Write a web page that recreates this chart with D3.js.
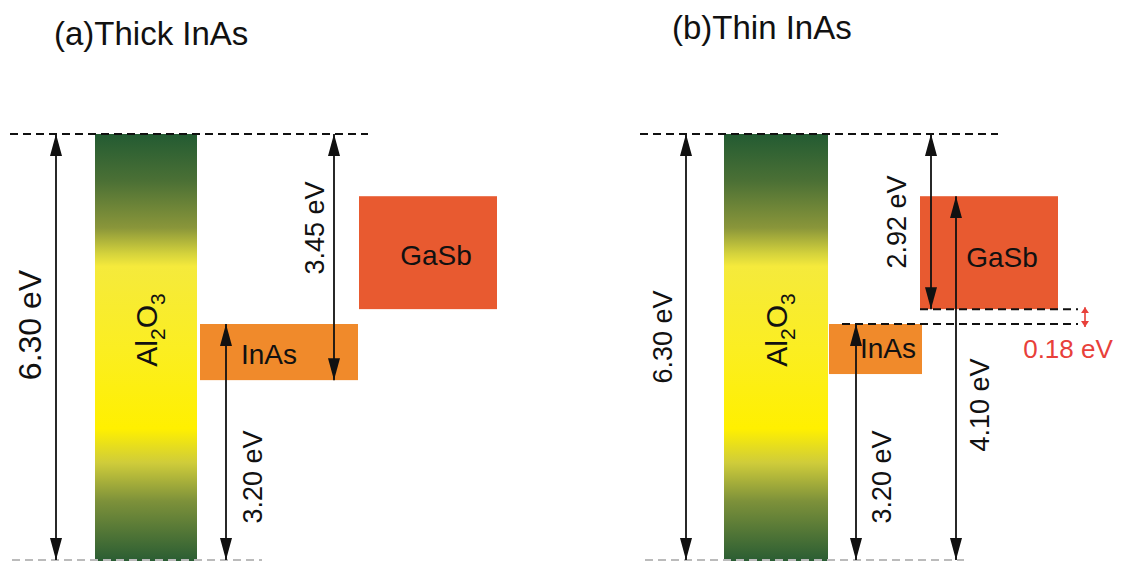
<!DOCTYPE html>
<html>
<head>
<meta charset="utf-8">
<script src="https://cdn.jsdelivr.net/npm/d3@7"></script>
<style>
  body { margin: 0; background: #fff; }
  text { font-family: "Liberation Sans", Arial, sans-serif; }
</style>
</head>
<body>
<div id="chart"></div>
<script>
// energies in eV (Al2O3 valence band = 0)
var titles = ["(a)Thick InAs", "(b)Thin InAs"];
var al2o3Band = [0, 6.30];
var inasBand = [[2.66, 3.49], [2.75, 3.49]];   // [bottom, top] per panel
var gasbBand = [[3.71, 5.38], [3.71, 5.38]];
// arrows: [from, to, label]
var arrowsA = [[0, 6.30, "6.30 eV"], [2.66, 6.30, "3.45 eV"], [0, 3.49, "3.20 eV"]];
var arrowsB = [[0, 6.30, "6.30 eV"], [3.71, 6.30, "2.92 eV"], [0, 3.49, "3.20 eV"], [0, 5.38, "4.10 eV"]];
var offsetB = [3.49, 3.71, "0.18 eV"];

var W = 1122, H = 561;

var svg = d3.select("#chart").append("svg")
  .attr("width", W)
  .attr("height", H);

var y = d3.scaleLinear()
  .domain([0, 6.30])
  .range([560, 134]);

var defs = svg.append("defs");

//-- gradient for the oxide --//
var grad = defs.append("linearGradient")
  .attr("id", "oxide")
  .attr("x1", 0).attr("y1", 0).attr("x2", 0).attr("y2", 1);
[[0, "#235b32"], [0.11, "#4b7035"], [0.22, "#8a963a"], [0.28, "#d4d23c"], [0.31, "#f5ea3c"],
 [0.5, "#fbee22"], [0.69, "#fff000"], [0.77, "#cfcc3a"], [0.86, "#7d913a"], [1, "#2a5d33"]]
  .forEach(function(s) {
    grad.append("stop").attr("offset", s[0]).attr("stop-color", s[1]);
  });

defs.append("marker")
  .attr("id", "head")
  .attr("viewBox", "0 0 22 12")
  .attr("refX", 22).attr("refY", 6)
  .attr("markerWidth", 22).attr("markerHeight", 12)
  .attr("markerUnits", "userSpaceOnUse")
  .attr("orient", "auto-start-reverse")
  .append("path")
  .attr("d", "M0,0 L22,6 L0,12 Z")
  .attr("fill", "#111");

defs.append("marker")
  .attr("id", "redhead")
  .attr("viewBox", "0 0 6 8")
  .attr("refX", 6).attr("refY", 4)
  .attr("markerWidth", 6).attr("markerHeight", 8)
  .attr("markerUnits", "userSpaceOnUse")
  .attr("orient", "auto-start-reverse")
  .append("path")
  .attr("d", "M0,0 L6,4 L0,8 Z")
  .attr("fill", "#e8403a");

function hline(g, e, x1, x2, color) {
  g.append("line")
    .attr("x1", x1).attr("x2", x2)
    .attr("y1", y(e)).attr("y2", y(e))
    .attr("stroke", color || "#111")
    .attr("stroke-width", 2)
    .attr("stroke-dasharray", "8,5");
}

function arrow(g, a, x) {
  g.append("line")
    .attr("x1", x).attr("x2", x)
    .attr("y1", y(a[0])).attr("y2", y(a[1]))
    .attr("stroke", "#111")
    .attr("stroke-width", 1.8)
    .attr("marker-start", "url(#head)")
    .attr("marker-end", "url(#head)");
}

function vlabel(g, txt, x, yy, size, color) {
  g.append("text")
    .attr("transform", "translate(" + x + "," + yy + ") rotate(-90)")
    .attr("text-anchor", "middle")
    .attr("font-size", size)
    .attr("fill", color || "#111")
    .text(txt);
}

function oxide(g, x1, x2) {
  g.append("rect")
    .attr("x", x1).attr("width", x2 - x1)
    .attr("y", y(al2o3Band[1])).attr("height", H - y(al2o3Band[1]))
    .attr("fill", "url(#oxide)");
  var t = g.append("text")
    .attr("transform", "translate(" + ((x1 + x2) / 2 + 11) + "," + 330 + ") rotate(-90)")
    .attr("text-anchor", "middle")
    .attr("font-size", 30)
    .attr("fill", "#111");
  t.append("tspan").text("Al");
  t.append("tspan").attr("font-size", 21).attr("dy", 8).text("2");
  t.append("tspan").attr("dy", -8).text("O");
  t.append("tspan").attr("font-size", 21).attr("dy", 8).text("3");
}

function box(g, band, x1, x2, color) {
  g.append("rect")
    .attr("x", x1).attr("width", x2 - x1)
    .attr("y", y(band[1])).attr("height", y(band[0]) - y(band[1]))
    .attr("fill", color);
}

function label(g, txt, x, yy, size) {
  g.append("text")
    .attr("x", x).attr("y", yy)
    .attr("text-anchor", "middle")
    .attr("font-size", size)
    .attr("fill", "#111")
    .text(txt);
}

// titles
svg.append("text").attr("x", 54).attr("y", 45).attr("font-size", 33).attr("fill", "#111").text(titles[0]);
svg.append("text").attr("x", 672).attr("y", 39).attr("font-size", 33).attr("fill", "#111").text(titles[1]);

//-- panel (a) --//
var ga = svg.append("g");
oxide(ga, 95, 197);
box(ga, inasBand[0], 200, 358, "#f08a2b");
box(ga, gasbBand[0], 359, 497, "#e85a30");
hline(ga, 6.30, 10, 368);
hline(ga, 0, 12, 262, "#bbb");
arrow(ga, arrowsA[0], 56);
arrow(ga, arrowsA[1], 334);
arrow(ga, arrowsA[2], 226);
vlabel(ga, arrowsA[0][2], 41, 325, 32);
vlabel(ga, arrowsA[1][2], 324, 228, 27);
vlabel(ga, arrowsA[2][2], 262, 477, 27);
label(ga, "InAs", 269, 364, 28);
label(ga, "GaSb", 436, 265, 28);

//-- panel (b) --//
var gb = svg.append("g");
oxide(gb, 724, 828);
box(gb, inasBand[1], 829, 922, "#f08a2b");
box(gb, gasbBand[1], 920, 1058, "#e85a30");
hline(gb, 6.30, 640, 998);
hline(gb, 0, 645, 964, "#bbb");
hline(gb, offsetB[1], 920, 1078);
hline(gb, offsetB[0], 842, 1078);
arrow(gb, arrowsB[0], 686);
arrow(gb, arrowsB[1], 931);
arrow(gb, arrowsB[2], 856);
arrow(gb, arrowsB[3], 956);
vlabel(gb, arrowsB[0][2], 672, 337, 27);
vlabel(gb, arrowsB[1][2], 906, 222, 27);
vlabel(gb, arrowsB[2][2], 891, 477, 27);
vlabel(gb, arrowsB[3][2], 989, 405, 27);
label(gb, "InAs", 888, 358, 28);
label(gb, "GaSb", 1002, 267, 28);

// small offset arrow between the two band edges
gb.append("line")
  .attr("x1", 1085).attr("x2", 1085)
  .attr("y1", y(offsetB[1]) - 2).attr("y2", y(offsetB[0]) + 3)
  .attr("stroke", "#e8403a").attr("stroke-width", 1.6)
  .attr("marker-start", "url(#redhead)")
  .attr("marker-end", "url(#redhead)");
gb.append("text")
  .attr("x", 1068).attr("y", 358)
  .attr("text-anchor", "middle")
  .attr("font-size", 26)
  .attr("fill", "#e8403a")
  .text(offsetB[2]);
</script>
</body>
</html>
